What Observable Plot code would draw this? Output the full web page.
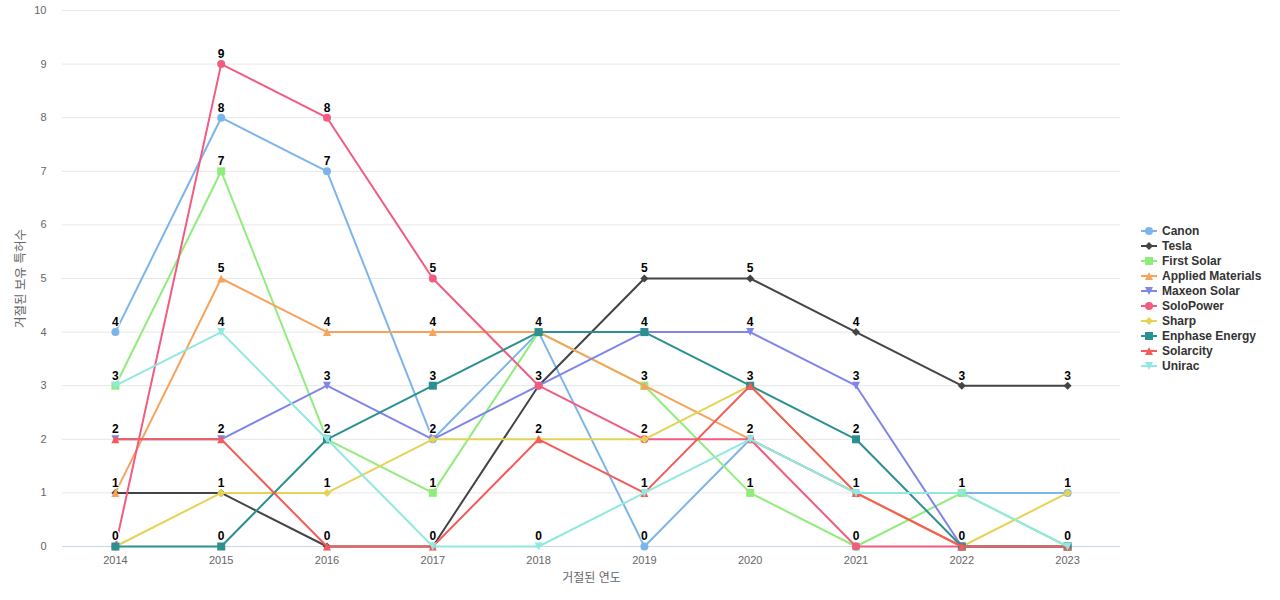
<!DOCTYPE html>
<html>
<head>
<meta charset="utf-8">
<script src="https://cdn.jsdelivr.net/npm/d3@7"></script>
<script src="https://cdn.jsdelivr.net/npm/@observablehq/plot@0.6"></script>
<style>
  body { margin: 0; background: #fff; }
  #wrap { position: relative; width: 1280px; height: 600px; font-family: "Liberation Sans", Arial, "Noto Sans CJK KR", sans-serif; }
  #legend { position: absolute; left: 1141px; top: 223px; }
  .li { display: flex; align-items: center; height: 15px; font-size: 12px; font-weight: bold; color: #333333; white-space: nowrap; }
  .li svg { margin-right: 5px; }
</style>
</head>
<body>
<div id="wrap"><div id="legend"></div></div>
<script>
const years = [2014, 2015, 2016, 2017, 2018, 2019, 2020, 2021, 2022, 2023];
const seriesNames = ["Canon", "Tesla", "First Solar", "Applied Materials", "Maxeon Solar", "SoloPower", "Sharp", "Enphase Energy", "Solarcity", "Unirac"];
const canon            = [4, 8, 7, 2, 4, 0, 2, 1, 1, 1];
const tesla            = [1, 1, 0, 0, 3, 5, 5, 4, 3, 3];
const firstSolar       = [3, 7, 2, 1, 4, 3, 1, 0, 1, 0];
const appliedMaterials = [1, 5, 4, 4, 4, 3, 2, 1, 0, 0];
const maxeonSolar      = [2, 2, 3, 2, 3, 4, 4, 3, 0, 0];
const soloPower        = [0, 9, 8, 5, 3, 2, 2, 0, 0, 0];
const sharp            = [0, 1, 1, 2, 2, 2, 3, 1, 0, 1];
const enphaseEnergy    = [0, 0, 2, 3, 4, 4, 3, 2, 0, 0];
const solarcity        = [2, 2, 0, 0, 2, 1, 3, 1, 0, 0];
const unirac           = [3, 4, 2, 0, 0, 1, 2, 1, 1, 0];
const yTicks = [0, 1, 2, 3, 4, 5, 6, 7, 8, 9, 10];
const xTitle = "거절된 연도";
const yTitle = "거절된 보유 특허수";

const seriesValues = [canon, tesla, firstSolar, appliedMaterials, maxeonSolar, soloPower, sharp, enphaseEnergy, solarcity, unirac];
const colors = ["#7cb5ec", "#434348", "#90ed7d", "#f7a35c", "#8085e9", "#f15c80", "#e4d354", "#2b908f", "#f45b5b", "#91e8e1"];
const shapeNames = ["circle", "diamond", "square", "triangle", "triangleDown", "circle", "diamond", "square", "triangle", "triangleDown"];

function mk(kind) {
  return {
    draw(ctx, size) {
      const r = Math.sqrt(size / Math.PI);
      if (kind === "circle") { ctx.moveTo(r, 0); ctx.arc(0, 0, r, 0, 2 * Math.PI); }
      else if (kind === "square") { ctx.rect(-r, -r, 2 * r, 2 * r); }
      else if (kind === "diamond") { ctx.moveTo(0, -r); ctx.lineTo(r, 0); ctx.lineTo(0, r); ctx.lineTo(-r, 0); }
      else if (kind === "triangle") { ctx.moveTo(0, -r); ctx.lineTo(r, r); ctx.lineTo(-r, r); }
      else { ctx.moveTo(-r, -r); ctx.lineTo(r, -r); ctx.lineTo(0, r); }
      ctx.closePath();
    }
  };
}

const rows = [];
seriesNames.forEach((name, i) => {
  years.forEach((year, j) => rows.push({name, idx: i, year, value: seriesValues[i][j]}));
});

const marks = [
  Plot.gridY(yTicks, {stroke: "#e6e6e6", strokeOpacity: 1}),
  Plot.ruleY([0], {stroke: "#ccd6eb"}),
  Plot.axisY(yTicks, {tickSize: 0, tickPadding: 16, fontSize: 11, fill: "#666666", label: null, tickFormat: d => String(d)}),
  Plot.axisX(years, {tickSize: 0, tickPadding: 10, fontSize: 11, fill: "#666666", label: null, tickFormat: d => String(d)}),
  Plot.text([xTitle], {frameAnchor: "bottom", textAnchor: "middle", lineAnchor: "middle", dy: 32, fontSize: 12, fill: "#666666"}),
  Plot.text([yTitle], {frameAnchor: "left", textAnchor: "middle", lineAnchor: "middle", dx: -42, rotate: -90, fontSize: 12.5, fill: "#666666"})
];
seriesNames.forEach((name, i) => {
  const d = rows.filter(r => r.idx === i);
  marks.push(Plot.line(d, {x: "year", y: "value", stroke: colors[i], strokeWidth: 2}));
  marks.push(Plot.dot(d, {x: "year", y: "value", fill: colors[i], r: 4, symbol: mk(shapeNames[i]), stroke: null}));
});
marks.push(Plot.text(rows, {x: "year", y: "value", text: d => String(d.value), dy: -10, fontSize: 12, fontWeight: "bold", fill: "#000", stroke: "#fff", strokeWidth: 2, paintOrder: "stroke"}));

const chart = Plot.plot({
  width: 1280,
  height: 600,
  marginLeft: 62,
  marginRight: 160,
  marginTop: 10,
  marginBottom: 54,
  style: {fontFamily: '"Liberation Sans", Arial, "Noto Sans CJK KR", sans-serif', background: "#fff"},
  x: {type: "point", domain: years, padding: 0.5, round: false, axis: null},
  y: {domain: [0, 10], axis: null},
  marks
});
document.getElementById("wrap").prepend(chart);

const legend = document.getElementById("legend");
seriesNames.forEach((name, i) => {
  const row = document.createElement("div");
  row.className = "li";
  const sym = d3.symbol(mk(shapeNames[i]), 16 * Math.PI)();
  row.innerHTML = `<svg width="16" height="12"><line x1="0" y1="6" x2="16" y2="6" stroke="${colors[i]}" stroke-width="2"/><path d="${sym}" transform="translate(8,6)" fill="${colors[i]}"/></svg><span>${name}</span>`;
  legend.appendChild(row);
});
</script>
</body>
</html>
